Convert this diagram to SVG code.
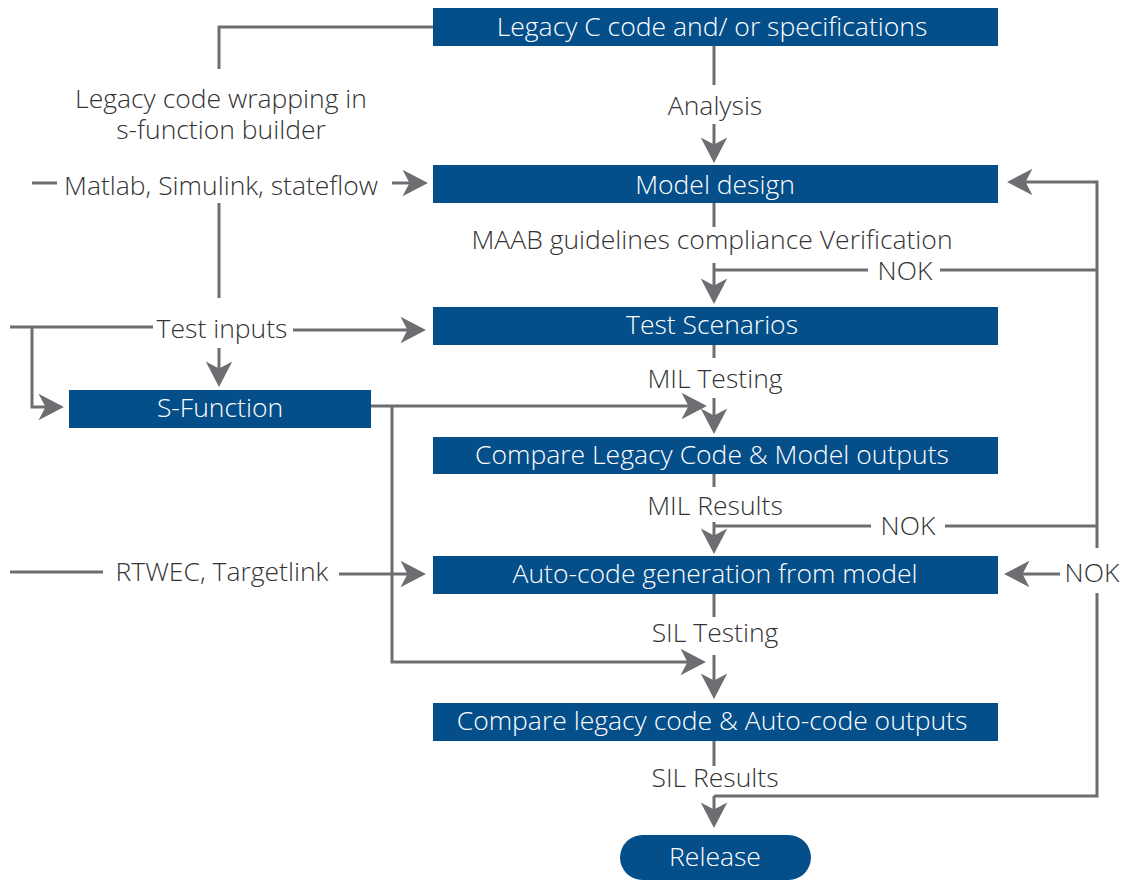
<svg xmlns="http://www.w3.org/2000/svg" width="1126" height="881" viewBox="0 0 1126 881">
  <style>
    .box { fill: #044e8a; }
    .btxt { fill: #ffffff; font-family: "Open Sans", "Liberation Sans", sans-serif; font-weight: 300; font-size: 26.5px; text-anchor: middle; }
    .lbl { fill: #333333; font-family: "Open Sans", "Liberation Sans", sans-serif; font-weight: 300; font-size: 26.5px; text-anchor: middle; }
    .ln { fill: none; stroke: #6d6e71; stroke-width: 3; }
    .arr { marker-end: url(#ah); }
  </style>
  <defs>
    <marker id="ah" markerUnits="userSpaceOnUse" markerWidth="30" markerHeight="30" viewBox="-24 -13 26 26" refX="-6" refY="0" orient="auto">
      <path d="M0,0 L-22,-11.5 L-16,0 L-22,11.5 Z" fill="#6d6e71"/>
    </marker>
  </defs>

  <rect width="1126" height="881" fill="#ffffff"/>

  <!-- connectors -->
  <g id="connectors">
    <!-- legacy code wrapping branch -->
    <polyline class="ln" points="433,27 219,27 219,69"/>
    <line class="ln" x1="219" y1="203" x2="219" y2="298"/>
    <line class="ln" x1="32" y1="183" x2="57" y2="183"/>
    <line class="ln arr" x1="392" y1="183" x2="421" y2="183"/>

    <!-- test inputs -->
    <line class="ln" x1="10" y1="327" x2="153" y2="327"/>
    <polyline class="ln arr" points="32,327 32,407 57,407"/>
    <line class="ln arr" x1="293" y1="330" x2="419" y2="330"/>
    <line class="ln arr" x1="219" y1="348" x2="219" y2="380"/>

    <!-- S-Function outputs -->
    <line class="ln arr" x1="371" y1="406" x2="700" y2="406"/>
    <polyline class="ln arr" points="392,406 392,662 699,662"/>

    <!-- RTWEC, Targetlink -->
    <line class="ln" x1="10" y1="572" x2="103" y2="572"/>
    <line class="ln arr" x1="339" y1="574" x2="419" y2="574"/>

    <!-- main flow -->
    <line class="ln" x1="714" y1="45" x2="714" y2="85"/>
    <line class="ln arr" x1="714" y1="124" x2="714" y2="156"/>
    <line class="ln" x1="714" y1="202" x2="714" y2="227"/>
    <line class="ln arr" x1="714" y1="263" x2="714" y2="297"/>
    <line class="ln" x1="714" y1="344" x2="714" y2="358"/>
    <line class="ln arr" x1="714" y1="398" x2="714" y2="427"/>
    <line class="ln" x1="714" y1="473" x2="714" y2="487"/>
    <line class="ln arr" x1="714" y1="522" x2="714" y2="547"/>
    <line class="ln" x1="714" y1="593" x2="714" y2="617"/>
    <line class="ln arr" x1="714" y1="655" x2="714" y2="692"/>
    <line class="ln" x1="714" y1="740" x2="714" y2="766"/>
    <line class="ln arr" x1="714" y1="796" x2="714" y2="821"/>

    <!-- NOK feedback loop -->
    <polyline class="ln arr" points="1097,548 1097,182 1014,182"/>
    <polyline class="ln" points="714,796 1097,796 1097,593"/>
    <line class="ln" x1="714" y1="270" x2="868" y2="270"/>
    <line class="ln" x1="940" y1="270" x2="1097" y2="270"/>
    <line class="ln" x1="714" y1="526" x2="871" y2="526"/>
    <line class="ln" x1="945" y1="526" x2="1097" y2="526"/>
    <line class="ln arr" x1="1060" y1="574" x2="1011" y2="574"/>
  </g>

  <!-- labels -->
  <g id="labels">
    <text class="lbl" x="221" y="108">Legacy code wrapping in</text>
    <text class="lbl" x="221" y="139">s-function builder</text>
    <text class="lbl" x="221" y="195">Matlab, Simulink, stateflow</text>
    <text class="lbl" x="222" y="338">Test inputs</text>
    <text class="lbl" x="222" y="581">RTWEC, Targetlink</text>
    <text class="lbl" x="715" y="115">Analysis</text>
    <text class="lbl" x="712" y="249">MAAB guidelines compliance Verification</text>
    <text class="lbl" x="905" y="280">NOK</text>
    <text class="lbl" x="715" y="388">MIL Testing</text>
    <text class="lbl" x="715" y="515">MIL Results</text>
    <text class="lbl" x="908" y="535">NOK</text>
    <text class="lbl" x="1092" y="582">NOK</text>
    <text class="lbl" x="715" y="642">SIL Testing</text>
    <text class="lbl" x="715" y="787">SIL Results</text>
  </g>

  <!-- nodes -->
  <g id="legacy-c">
    <rect class="box" x="433" y="8" width="565" height="38"/>
    <text class="btxt" x="712" y="36">Legacy C code and/ or specifications</text>
  </g>
  <g id="model-design">
    <rect class="box" x="433" y="165" width="565" height="38"/>
    <text class="btxt" x="715" y="194">Model design</text>
  </g>
  <g id="test-scenarios">
    <rect class="box" x="433" y="307" width="565" height="38"/>
    <text class="btxt" x="712" y="334">Test Scenarios</text>
  </g>
  <g id="s-function">
    <rect class="box" x="69" y="390" width="302" height="38"/>
    <text class="btxt" x="220" y="417">S-Function</text>
  </g>
  <g id="compare-model">
    <rect class="box" x="433" y="437" width="565" height="37"/>
    <text class="btxt" x="712" y="464">Compare Legacy Code &amp; Model outputs</text>
  </g>
  <g id="auto-code">
    <rect class="box" x="433" y="556" width="565" height="38"/>
    <text class="btxt" x="715" y="583">Auto-code generation from model</text>
  </g>
  <g id="compare-auto">
    <rect class="box" x="433" y="703" width="565" height="38"/>
    <text class="btxt" x="712" y="730">Compare legacy code &amp; Auto-code outputs</text>
  </g>
  <g id="release">
    <rect class="box" x="620" y="835" width="191" height="45" rx="22.5" ry="22.5"/>
    <text class="btxt" x="715" y="866">Release</text>
  </g>
</svg>
